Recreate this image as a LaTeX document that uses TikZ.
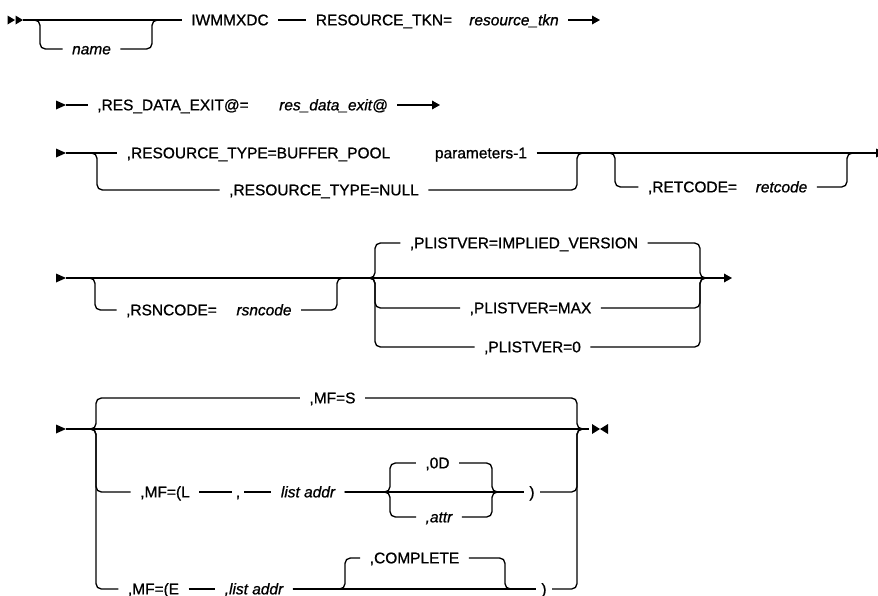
\documentclass[tikz,border=0pt]{standalone}
\usepackage{fontspec}
\setmainfont{Liberation Sans}[UprightFeatures={FakeBold=0.9}, ItalicFeatures={FakeBold=0.9}]
\usetikzlibrary{arrows.meta}
\tikzset{
  sdline/.style={line width=1pt},
  sdbranch/.style={line width=1pt, rounded corners=4pt},
  sdarrow/.style={line width=1pt, -{Triangle[length=6pt,width=6.5pt]}},
  sdkw/.style={inner xsep=7pt, inner ysep=1pt, text height=9pt, text depth=1pt, font=\fontsize{11.6}{13}\selectfont},
  sdvar/.style={sdkw, font=\fontsize{11.6}{13}\selectfont\itshape},
}
\newcommand{\SDhead}[1]{\fill (#1) -- ++(-10,-4.5) -- ++(0,9) -- cycle;}

\begin{document}
\begin{tikzpicture}[x=0.75pt, y=-0.75pt]
  \useasboundingbox[fill=white] (0,0) rectangle (878,596);

  \coordinate (s1) at (23,20);
  \coordinate (n1l) at (40,20);
  \coordinate (n1r) at (152,20);
  \coordinate (e1) at (600,20);
  \node[sdvar] (nm) at (91.5,49) {name};
  \node[sdkw] (iw) at (230,20) {IWMMXDC};
  \node[sdkw] (tkn) at (384,20) {RESOURCE\_TKN=};
  \node[sdvar] (tknv) at (514,20) {resource\_tkn};
  \fill (15,20) -- ++(-7.5,-4.5) -- ++(0,9) -- cycle;
  \fill (s1) -- ++(-7.5,-4.5) -- ++(0,9) -- cycle;
  \draw[sdline] (s1) -- (iw);
  \draw[sdbranch] (s1) -| (n1l |- nm) -- (nm);
  \draw[sdbranch] (nm) -| (n1r) -- (iw);
  \draw[sdline] (iw) -- (tkn);
  \draw[sdarrow] (tknv) -- (e1);

  \coordinate (s2) at (66,105);
  \coordinate (e2) at (440,105);
  \node[sdkw] (rde) at (173,105) {,RES\_DATA\_EXIT@=};
  \node[sdvar] (rdev) at (333.5,105) {res\_data\_exit@};
  \SDhead{s2}
  \draw[sdline] (s2) -- (rde);
  \draw[sdarrow] (rdev) -- (e2);

  \coordinate (s3) at (66,153);
  \coordinate (b3l) at (97,153);
  \coordinate (b3r) at (577,153);
  \coordinate (c3l) at (615,153);
  \coordinate (c3r) at (847,153);
  \coordinate (e3) at (886,153);
  \node[sdkw] (bp) at (258.5,153) {,RESOURCE\_TYPE=BUFFER\_POOL};
  \node[sdkw] (p1) at (481,153) {parameters-1};
  \node[sdkw] (nul) at (324,190) {,RESOURCE\_TYPE=NULL};
  \node[sdkw] (rc) at (692.5,187) {,RETCODE=};
  \node[sdvar] (rcv) at (781.5,187) {retcode};
  \SDhead{s3}
  \draw[sdline] (s3) -- (bp);
  \draw[sdbranch] (s3) -| (b3l |- nul) -- (nul);
  \draw[sdbranch] (nul) -| (b3r) -- (c3l);
  \draw[sdline] (p1) -- (e3);
  \draw[sdbranch] (b3r) -| (c3l |- rc) -- (rc);
  \draw[sdbranch] (rcv) -| (c3r) -- (e3);
  \SDhead{e3}

  \coordinate (s4) at (66,278);
  \coordinate (r4l) at (95,278);
  \coordinate (r4r) at (337,278);
  \coordinate (p4l) at (375,278);
  \coordinate (p4r) at (700,278);
  \coordinate (e4) at (732,278);
  \node[sdkw] (rsn) at (171.5,310) {,RSNCODE=};
  \node[sdvar] (rsnv) at (264,310) {rsncode};
  \node[sdkw] (pimp) at (524,243) {,PLISTVER=IMPLIED\_VERSION};
  \node[sdkw] (pmax) at (530.5,308) {,PLISTVER=MAX};
  \node[sdkw] (pz) at (532.5,347) {,PLISTVER=0};
  \SDhead{s4}
  \draw[sdarrow] (s4) -- (e4);
  \draw[sdbranch] (s4) -| (r4l |- rsn) -- (rsn);
  \draw[sdbranch] (rsnv) -| (r4r) -- (p4l);
  \draw[sdbranch] (r4r) -| (p4l |- pimp) -- (pimp);
  \draw[sdbranch] (r4r) -| (p4l |- pmax) -- (pmax);
  \draw[sdbranch] (r4r) -| (p4l |- pz) -- (pz);
  \draw[sdbranch] (pimp) -| (p4r) -- ++(8,0);
  \draw[sdbranch] (pmax) -| (p4r) -- ++(8,0);
  \draw[sdbranch] (pz) -| (p4r) -- ++(8,0);

  \coordinate (s5) at (66,429);
  \coordinate (m5l) at (96,429);
  \coordinate (m5r) at (577,429);
  \coordinate (e5) at (600,429);
  \coordinate (g5l) at (390,492);
  \coordinate (g5r) at (492,492);
  \coordinate (k5l) at (345,589);
  \coordinate (k5r) at (505,589);
  \node[sdkw] (mfs) at (332.5,398) {,MF=S};
  \node[sdkw] (mfl) at (165,492) {,MF=(L};
  \node[sdkw, inner xsep=3pt] (cm) at (238,492) {,};
  \node[sdvar] (la) at (308,492) {list addr};
  \node[sdkw] (od) at (437.5,463) {,0D};
  \node[sdvar] (at) at (439,517) {,attr};
  \node[sdkw, inner xsep=4pt] (rp1) at (532,492) {)};
  \node[sdkw] (mfe) at (153.5,589) {,MF=(E};
  \node[sdvar] (le) at (254,589) {,list addr};
  \node[sdkw] (cmp) at (414.5,558) {,COMPLETE};
  \node[sdkw, inner xsep=4pt] (rp2) at (544,589) {)};
  \SDhead{s5}
  \draw[sdline] (s5) -- ([xshift=-8]e5);
  \draw[sdbranch] (s5) -| (m5l |- mfs) -- (mfs);
  \draw[sdbranch] (mfs) -| (m5r) -- ++(8,0);
  \draw[sdbranch] (s5) -| (m5l |- mfl) -- (mfl);
  \draw[sdline] (mfl) -- (cm) -- (la) -- (rp1);
  \draw[sdbranch] (la) -| (g5l |- od) -- (od);
  \draw[sdbranch] (od) -| (g5r) -- (rp1);
  \draw[sdbranch] (la) -| (g5l |- at) -- (at);
  \draw[sdbranch] (at) -| (g5r) -- (rp1);
  \draw[sdbranch] (rp1) -| (m5r) -- ++(8,0);
  \draw[sdbranch] (s5) -| (m5l |- mfe) -- (mfe);
  \draw[sdline] (mfe) -- (le) -- (rp2);
  \draw[sdbranch] (le) -| (k5l |- cmp) -- (cmp);
  \draw[sdbranch] (cmp) -| (k5r) -- (rp2);
  \draw[sdbranch] (rp2) -| (m5r) -- ++(8,0);
  \fill (e5) -- ++(-8,-5) -- ++(0,10) -- cycle;
  \fill (e5) -- ++(8,-5) -- ++(0,10) -- cycle;
\end{tikzpicture}
\end{document}
